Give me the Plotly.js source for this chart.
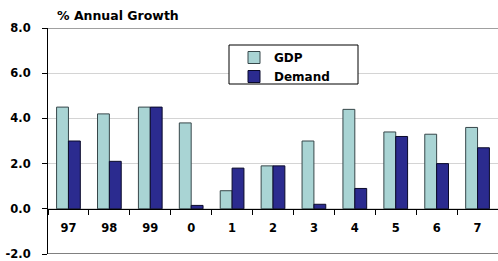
<!DOCTYPE html>
<html><head><meta charset="utf-8">
<script src="https://cdn.plot.ly/plotly-3.0.1.min.js"></script>
<style>html,body{margin:0;padding:0;background:#fff}#chart{width:498px;height:261px}</style>
</head><body><div id="chart"></div>
<script>
const categories = ["97","98","99","0","1","2","3","4","5","6","7"];
const gdp = [4.5, 4.2, 4.5, 3.8, 0.8, 1.9, 3.0, 4.4, 3.4, 3.3, 3.6];
const demand = [3.0, 2.1, 4.5, 0.15, 1.8, 1.9, 0.2, 0.9, 3.2, 2.0, 2.7];
const yTicks = [-2, 0, 2, 4, 6, 8];
const yTickText = ["-2.0", "0.0", "2.0", "4.0", "6.0", "8.0"];

const font = "'DejaVu Sans', Verdana, sans-serif";
const W = 450, H = 226, L = 48, T = 28;
const px = v => (v - L) / W;          // pixel x -> paper
const py = v => (T + H - v) / H;      // pixel y -> paper
const traces = [
  {type:"bar", name:"GDP", x:categories, y:gdp,
   marker:{color:"#a9d4d4", line:{color:"#37474a", width:1}}},
  {type:"bar", name:"Demand", x:categories, y:demand,
   marker:{color:"#2b2b8f", line:{color:"#0a0a2a", width:1}}}
];
const layout = {
  width:498, height:261,
  margin:{l:L, r:0, t:T, b:7},
  paper_bgcolor:"#fff", plot_bgcolor:"#fff",
  font:{family:font, size:12, color:"#000"},
  barmode:"group", bargap:0.42, bargroupgap:0,
  showlegend:true,
  title:{text:"% Annual Growth", font:{family:font, size:12.5, weight:"bold", color:"#000"},
         x:57/498, xref:"container", xanchor:"left", y:1-16/261, yref:"container", yanchor:"middle"},
  legend:{x:px(234), y:py(43), xanchor:"left", yanchor:"top",
          bgcolor:"rgba(0,0,0,0)", borderwidth:0,
          font:{family:font, size:12, weight:"bold"}, tracegroupgap:0},
  xaxis:{type:"category", range:[-0.5, 10.5], anchor:"free", position:0.2,
         showline:true, linecolor:"#000", linewidth:1,
         ticks:"outside", ticklen:5, tickcolor:"#000", tickson:"boundaries",
         ticklabelstandoff:8,
         tickfont:{family:font, size:11.5, weight:"bold"}, showgrid:false, zeroline:false, fixedrange:true},
  yaxis:{range:[-2, 8], tickvals:yTicks, ticktext:yTickText,
         showline:true, linecolor:"#000", linewidth:1,
         ticks:"outside", ticklen:5, tickcolor:"#000", ticklabeloverflow:"allow",
         showgrid:true, gridcolor:"#d4d4d4", gridwidth:1, zeroline:false,
         tickfont:{family:font, size:11.5, weight:"bold"}, ticklabelstandoff:9, fixedrange:true},
  shapes:[
    {type:"line", xref:"paper", yref:"y", x0:0, x1:1, y0:8, y1:8, line:{color:"#808080", width:1.5}},
    {type:"line", xref:"paper", yref:"y", x0:0, x1:1, y0:-2, y1:-2, line:{color:"#000", width:1}},
    {type:"rect", xref:"paper", yref:"paper", x0:px(229), x1:px(358), y0:py(84), y1:py(45),
     fillcolor:"#fff", line:{color:"#000", width:1}}
  ]
};
Plotly.newPlot("chart", traces, layout, {displayModeBar:false, staticPlot:true});
</script></body></html>
